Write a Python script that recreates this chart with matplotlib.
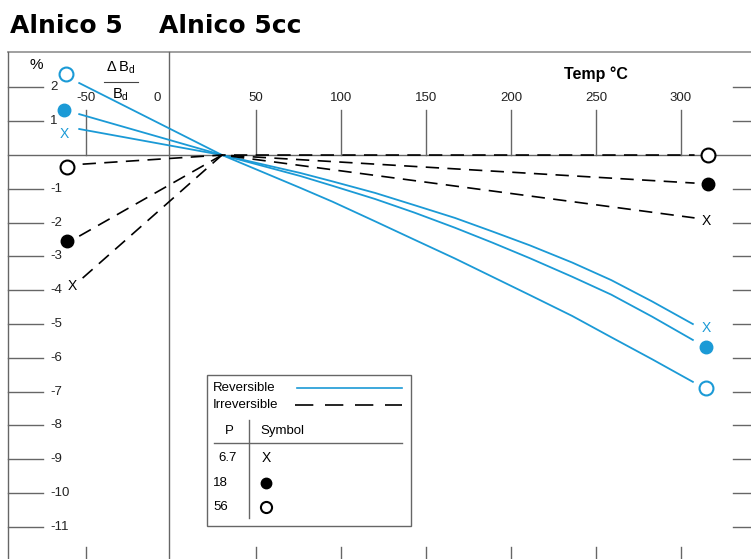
import matplotlib
matplotlib.use("Agg")
import matplotlib.pyplot as plt
from matplotlib.patches import Rectangle

plt.rcParams['font.family'] = ['Liberation Sans', 'DejaVu Sans']

BLUE = '#1b9ad6'
GREY = '#666666'

# permeance coefficients P and their symbols
p_values = ['6.7', '18', '56']

# reversible curves (blue), temperature in C, change in %
rev_temp = [-54, 30, 76, 95, 120, 143, 167, 189, 211, 236, 259, 283, 307]
rev_67 = [0.77, 0, -0.53, -0.78, -1.12, -1.48, -1.86, -2.26, -2.67, -3.18, -3.70, -4.33, -5.0]
rev_18 = [1.21, 0, -0.62, -0.91, -1.30, -1.70, -2.15, -2.59, -3.05, -3.60, -4.13, -4.78, -5.47]
rev_56 = [2.13, 0, -0.97, -1.38, -1.96, -2.50, -3.06, -3.60, -4.14, -4.76, -5.39, -6.04, -6.71]

# irreversible curves (black dashed)
irr_temp_67 = [-52, 30, 308]
irr_67 = [-3.64, 0, -1.86]
irr_temp_18 = [-54, 30, 308]
irr_18 = [-2.4, 0, -0.83]
irr_temp_56 = [-52, 30, 308]
irr_56 = [-0.27, 0, 0]

# end symbols: (temp, value) left and right
rev_marks_67 = ([-63, 315], [0.62, -5.12])
rev_marks_18 = ([-63, 315], [1.33, -5.68])
rev_marks_56 = ([-62, 315], [2.4, -6.9])
irr_marks_67 = ([-58, 315], [-3.88, -1.95])
irr_marks_18 = ([-61, 316], [-2.54, -0.86])
irr_marks_56 = ([-61, 316], [-0.35, 0.0])

x_ticks = [-50, 50, 100, 150, 200, 250, 300]
y_ticks = [2, 1, -1, -2, -3, -4, -5, -6, -7, -8, -9, -10, -11]

fig = plt.figure(figsize=(7.51, 5.59), dpi=100)
ax = fig.add_axes([0, 0, 1, 1])
ax.set_xlim(-100.6, 341.2)
ax.set_ylim(-11.95, 4.586)
ax.axis('off')

# frame
ax.plot([-96, 341.2], [3.05, 3.05], color='#999999', lw=1.3)
ax.plot([-96, -96], [-11.95, 3.05], color=GREY, lw=1)
ax.plot([-1, -1], [-11.95, 3.05], color=GREY, lw=1)
ax.plot([-96, 341.2], [0, 0], color=GREY, lw=1)

# y ticks left and right
for v in y_ticks:
    ax.plot([-96, -75.5], [v, v], color=GREY, lw=1)
    ax.plot([330.6, 341.2], [v, v], color=GREY, lw=1)
    ax.text(-71, v, str(v), ha='left', va='center', fontsize=9.5, color='#222222')

# x ticks top and bottom
for t in x_ticks:
    ax.plot([t, t], [0, 1.33], color=GREY, lw=1)
    ax.plot([t, t], [-11.6, -11.95], color=GREY, lw=1)
    ax.text(t, 1.69, str(t), ha='center', va='center', fontsize=9.5, color='#222222')
ax.text(-8, 1.69, '0', ha='center', va='center', fontsize=9.5, color='#222222')

# axis labels
ax.text(-79.4, 2.66, '%', ha='center', va='center', fontsize=11)
ax.text(-29.4, 2.57, r'$\mathregular{\Delta\,B_d}$', ha='center', va='center', fontsize=10.5)
ax.plot([-39.4, -19.4], [2.16, 2.16], color='#444444', lw=0.8)
ax.text(-30, 1.78, r'$\mathregular{B_d}$', ha='center', va='center', fontsize=10.5)
ax.text(250, 2.4, 'Temp \u00b0C', ha='center', va='center', fontsize=11.5, fontweight='bold')

# title
fig.text(10 / 751, 1 - 33 / 559, 'Alnico 5', ha='left', va='baseline',
         fontsize=18, fontweight='bold', family='DejaVu Sans')
fig.text(159 / 751, 1 - 33 / 559, 'Alnico 5cc', ha='left', va='baseline',
         fontsize=18, fontweight='bold', family='DejaVu Sans')

# curves
for ys in [rev_67, rev_18, rev_56]:
    ax.plot(rev_temp, ys, color=BLUE, lw=1.3)
for xs, ys in [(irr_temp_67, irr_67), (irr_temp_18, irr_18), (irr_temp_56, irr_56)]:
    ax.plot(xs, ys, color='black', lw=1.2, dashes=(8, 5))

# symbols
for x, y in zip(*rev_marks_67):
    ax.text(x, y, 'X', color=BLUE, ha='center', va='center', fontsize=10)
ax.plot(*rev_marks_18, 'o', color=BLUE, ms=9, ls='none')
ax.plot(*rev_marks_56, 'o', mfc='white', mec=BLUE, mew=1.5, ms=10, ls='none')
for x, y in zip(*irr_marks_67):
    ax.text(x, y, 'X', color='black', ha='center', va='center', fontsize=10)
ax.plot(*irr_marks_18, 'o', color='black', ms=9, ls='none')
ax.plot(*irr_marks_56, 'o', mfc='white', mec='black', mew=1.5, ms=10, ls='none')

# legend box
ax.add_patch(Rectangle((21.2, -10.98), 120, 4.47, fill=False, edgecolor=GREY, lw=1))
ax.text(24.7, -6.89, 'Reversible', ha='left', va='center', fontsize=9.5)
ax.plot([74.1, 135.9], [-6.89, -6.89], color=BLUE, lw=1.2)
ax.text(24.7, -7.40, 'Irreversible', ha='left', va='center', fontsize=9.5)
ax.plot([73, 135.9], [-7.40, -7.40], color='black', lw=1.2, dashes=(11, 7))
ax.text(34.1, -8.17, 'P', ha='center', va='center', fontsize=9.5)
ax.text(52.4, -8.17, 'Symbol', ha='left', va='center', fontsize=9.5)
ax.plot([45.9, 45.9], [-7.84, -10.74], color=GREY, lw=1)
ax.plot([25.3, 135.9], [-8.52, -8.52], color=GREY, lw=1)
ax.text(27.6, -8.96, p_values[0], ha='left', va='center', fontsize=9.5)
ax.text(24.7, -9.70, p_values[1], ha='left', va='center', fontsize=9.5)
ax.text(24.7, -10.41, p_values[2], ha='left', va='center', fontsize=9.5)
ax.text(55.9, -8.96, 'X', ha='center', va='center', fontsize=10)
ax.plot([55.9], [-9.70], 'o', color='black', ms=7.5)
ax.plot([55.9], [-10.41], 'o', mfc='white', mec='black', mew=1.5, ms=8)

fig.savefig('out.png', dpi=100)
